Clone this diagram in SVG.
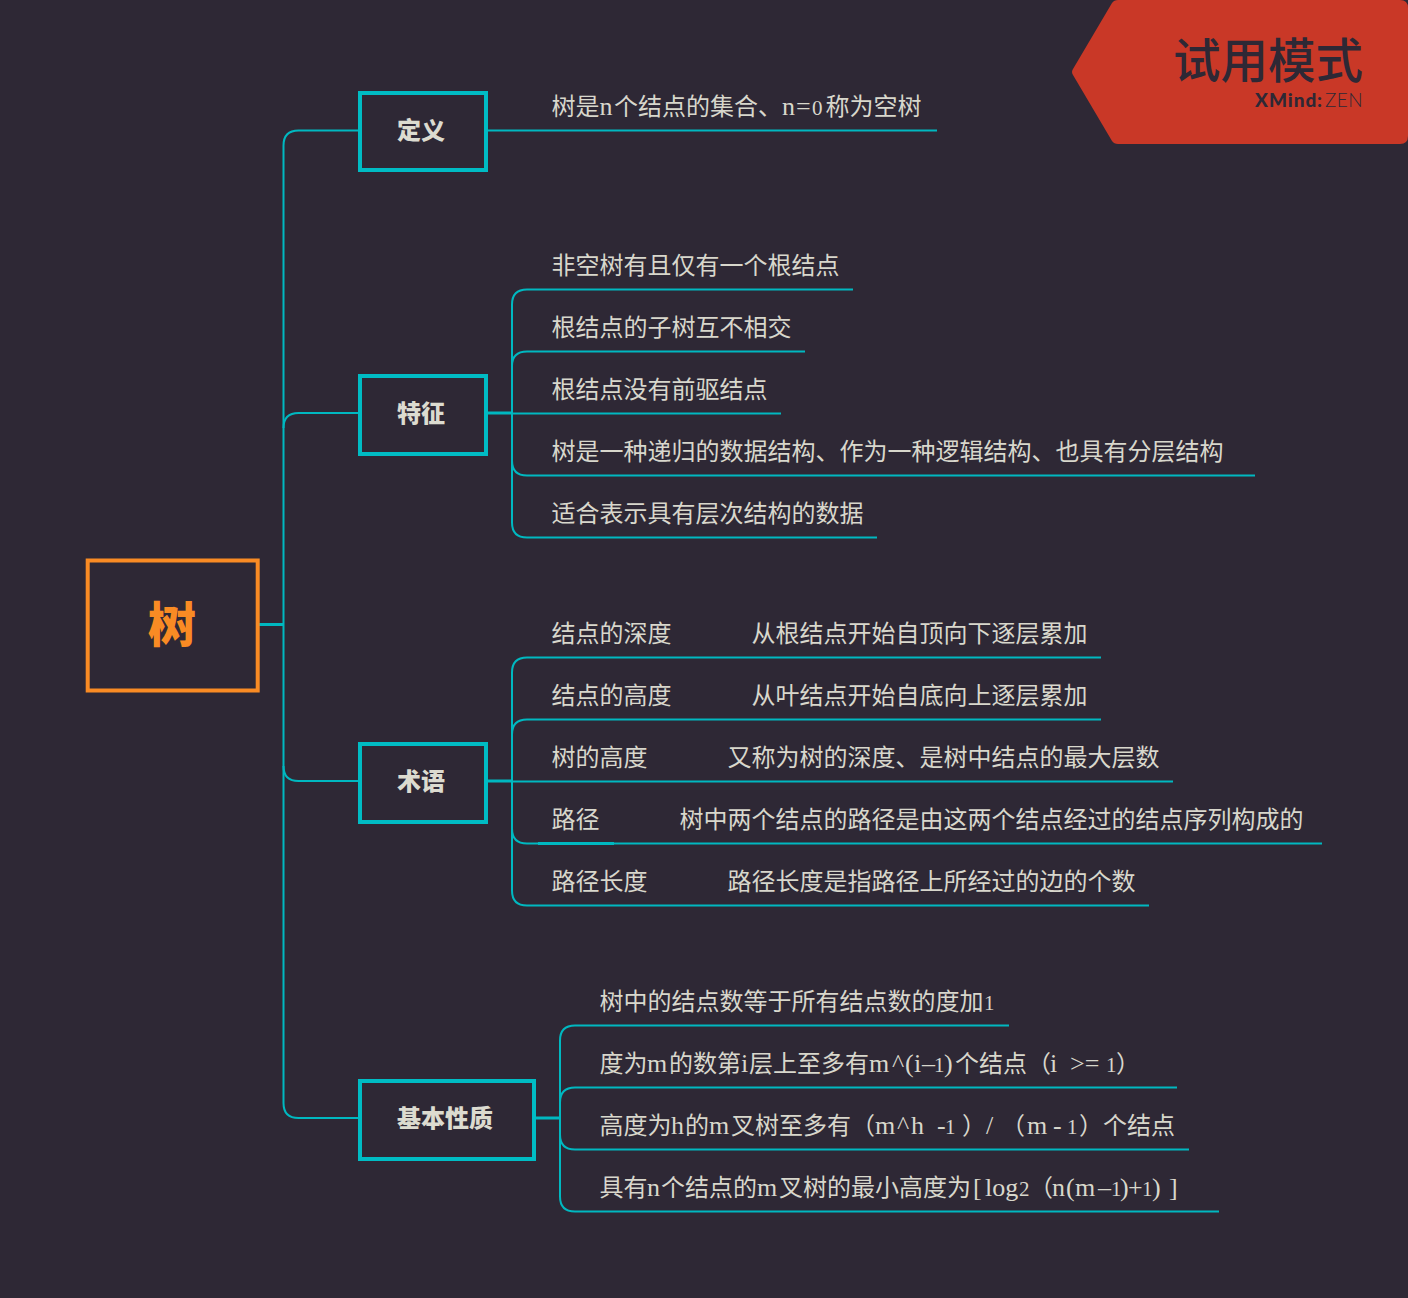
<svg xmlns="http://www.w3.org/2000/svg" width="1408" height="1298" viewBox="0 0 1408 1298">
<style>
text{font-family:"Noto Sans CJK SC","Noto Sans",sans-serif;}
.t{font-size:24px;fill:#d8d7cc;}
.l{font-family:"Liberation Serif","Noto Sans CJK SC",serif;font-size:26px;}
.d{font-family:"Liberation Serif","Noto Sans CJK SC",serif;font-size:21px;}
.b{font-size:24px;font-weight:900;fill:#dcdbd0;text-anchor:middle;}
.box{fill:#2e2835;stroke:#00bcc4;stroke-width:4;}
.c{fill:none;stroke:#00b8c0;stroke-width:2;}
.s{stroke-width:3;}
</style>
<rect width="1408" height="1298" fill="#2e2835"/>
<g id="connectors">
<path class="c s" d="M259 624.500H283.500"/>
<path class="c" d="M358 130.500H298.500Q283.500 130.500 283.500 145.500V1103Q283.500 1118 298.500 1118H358"/>
<path class="c" d="M283.500 428Q283.500 413 298.500 413H358"/>
<path class="c" d="M283.500 766Q283.500 781 298.500 781H358"/>
<path class="c" d="M487 130.500H937"/>
<path class="c s" d="M487 413H512"/>
<path class="c" d="M853 289.500H527Q512 289.500 512 304.500V522.500Q512 537.500 527 537.500H877"/>
<path class="c" d="M512 366Q512 351.500 527 351.500H805"/>
<path class="c" d="M512 413.500H781"/>
<path class="c" d="M512 460.500Q512 475.500 527 475.500H1255"/>
<path class="c s" d="M487 781H512"/>
<path class="c" d="M1101 657.500H527Q512 657.500 512 672.500V890.500Q512 905.500 527 905.500H1149"/>
<path class="c" d="M512 734.500Q512 719.500 527 719.500H1101"/>
<path class="c" d="M512 781.500H1173"/>
<path class="c" d="M512 828.500Q512 843.500 527 843.500H1322"/>
<path class="c s" d="M538 843.500H614"/>
<path class="c s" d="M535 1118H560"/>
<path class="c" d="M1009 1025.500H575Q560 1025.500 560 1040.500V1196.500Q560 1211.500 575 1211.500H1219"/>
<path class="c" d="M560 1102.500Q560 1087.500 575 1087.500H1177"/>
<path class="c" d="M560 1134.500Q560 1149.500 575 1149.500H1189"/>
</g>
<g id="root"><rect x="87.700" y="560.500" width="170" height="130" fill="#2e2835" stroke="#f98b24" stroke-width="4"/><text x="172" y="642" text-anchor="middle" font-size="48" font-weight="900" fill="#f98b24">树</text></g>
<g id="n-def"><rect class="box" x="360" y="93" width="126" height="77"/><text class="b" x="421" y="139">定义</text>
<text class="t" y="115"><tspan x="551.500">树是</tspan><tspan class="l" x="599.500">n</tspan><tspan x="614">个结点的集合、</tspan><tspan class="l" x="782">n</tspan><tspan class="l" x="796">=</tspan><tspan class="d" x="812">0</tspan><tspan x="825.500">称为空树</tspan></text></g>
<g id="n-feat"><rect class="box" x="360" y="376" width="126" height="78"/><text class="b" x="421" y="422">特征</text>
<text class="t" x="551.500" y="274">非空树有且仅有一个根结点</text>
<text class="t" x="551.500" y="336">根结点的子树互不相交</text>
<text class="t" x="551.500" y="398">根结点没有前驱结点</text>
<text class="t" x="551.500" y="460">树是一种递归的数据结构、作为一种逻辑结构、也具有分层结构</text>
<text class="t" x="551.500" y="522">适合表示具有层次结构的数据</text></g>
<g id="n-term"><rect class="box" x="360" y="744" width="126" height="78"/><text class="b" x="421" y="790">术语</text>
<text class="t" x="551.500" y="642">结点的深度</text><text class="t" x="751.500" y="642">从根结点开始自顶向下逐层累加</text>
<text class="t" x="551.500" y="704">结点的高度</text><text class="t" x="751.500" y="704">从叶结点开始自底向上逐层累加</text>
<text class="t" x="551.500" y="766">树的高度</text><text class="t" x="727.500" y="766">又称为树的深度、是树中结点的最大层数</text>
<text class="t" x="551.500" y="828">路径</text><text class="t" x="679.500" y="828">树中两个结点的路径是由这两个结点经过的结点序列构成的</text>
<text class="t" x="551.500" y="890">路径长度</text><text class="t" x="727.500" y="890">路径长度是指路径上所经过的边的个数</text></g>
<g id="n-prop"><rect class="box" x="360" y="1081" width="174" height="78"/><text class="b" x="445" y="1127">基本性质</text>
<text class="t" y="1010"><tspan x="599.500">树中的结点数等于所有结点数的度加</tspan><tspan class="d" x="984">1</tspan></text>
<text class="t" y="1072"><tspan x="599.500">度为</tspan><tspan class="l" x="647">m</tspan><tspan x="669">的数第</tspan><tspan class="l" x="741">i</tspan><tspan x="749">层上至多有</tspan><tspan class="l" x="869">m</tspan><tspan class="l" x="892">^</tspan><tspan class="l" x="905">(</tspan><tspan class="l" x="914">i</tspan><tspan class="l" x="922">–</tspan><tspan class="d" x="934">1</tspan><tspan class="l" x="944">)</tspan><tspan x="955">个结点（</tspan><tspan class="l" x="1050">i</tspan><tspan class="l" x="1070">&gt;=</tspan><tspan class="d" x="1106">1</tspan><tspan x="1116">）</tspan></text>
<text class="t" y="1134"><tspan x="599.500">高度为</tspan><tspan class="l" x="671">h</tspan><tspan x="685">的</tspan><tspan class="l" x="709">m</tspan><tspan x="731">叉树至多有（</tspan><tspan class="l" x="875">m</tspan><tspan class="l" x="897">^</tspan><tspan class="l" x="911">h</tspan><tspan class="l" x="937">-</tspan><tspan class="d" x="945">1</tspan><tspan x="962">）</tspan><tspan class="l" x="986">/</tspan><tspan x="1001">（</tspan><tspan class="l" x="1027">m</tspan><tspan class="l" x="1053">-</tspan><tspan class="d" x="1067">1</tspan><tspan x="1079">）</tspan><tspan x="1103">个结点</tspan></text>
<text class="t" y="1196"><tspan x="599.500">具有</tspan><tspan class="l" x="647">n</tspan><tspan x="661">个结点的</tspan><tspan class="l" x="757">m</tspan><tspan x="779">叉树的最小高度为</tspan><tspan class="l" x="973">[</tspan><tspan class="l" x="985">log</tspan><tspan class="d" x="1019">2</tspan><tspan x="1029">（</tspan><tspan class="l" x="1052">n</tspan><tspan class="l" x="1066">(</tspan><tspan class="l" x="1075">m</tspan><tspan class="l" x="1098">–</tspan><tspan class="d" x="1111">1</tspan><tspan class="l" x="1120">)</tspan><tspan class="l" x="1128">+</tspan><tspan class="d" x="1142">1</tspan><tspan class="l" x="1152">)</tspan><tspan class="l" x="1169">]</tspan></text></g>
<g id="watermark"><path d="M1118 0H1400Q1408 0 1408 8V136Q1408 144 1400 144H1118Q1114 144 1112 141L1073 75Q1071 72 1073 69L1112 3Q1114 0 1118 0Z" fill="#c93827"/>
<text x="1363" y="78" text-anchor="end" font-size="47.500" font-weight="500" fill="#2e2835">试用模式</text>
<text y="107" font-size="19" fill="#2e2835" style="font-family:Lato,sans-serif"><tspan x="1255" font-weight="900" letter-spacing="1">XMind</tspan><tspan x="1317" font-weight="900">:</tspan><tspan x="1325" font-weight="300" letter-spacing="0.500">ZEN</tspan></text></g>
</svg>
